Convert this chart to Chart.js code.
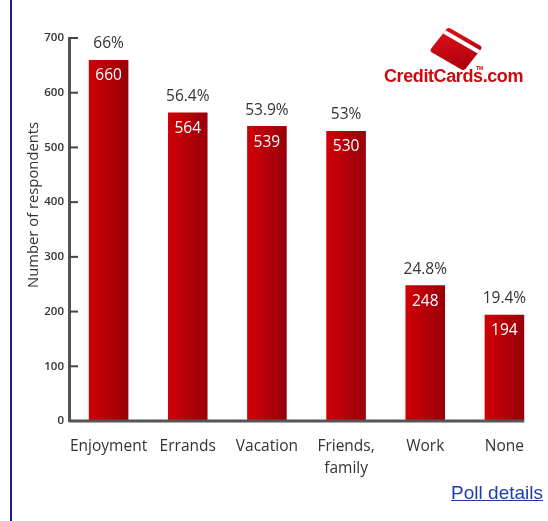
<!DOCTYPE html>
<html><head><meta charset="utf-8">
<script src="https://cdn.jsdelivr.net/npm/chart.js@4.4.1/dist/chart.umd.min.js"></script>
<style>
html,body{margin:0;padding:0;background:#fff;}
#wrap{position:relative;width:548px;height:521px;overflow:hidden;}
#c{position:absolute;left:0;top:0;}
#vline{position:absolute;left:10px;top:0;width:2px;height:521px;background:#1c1c8a;}
#poll{position:absolute;right:5px;top:482px;font-family:"Liberation Sans",Arial,sans-serif;font-size:19px;color:#1f3fa6;text-decoration:underline;}
#logo{position:absolute;left:384px;top:22px;width:150px;height:70px;}
#card{position:absolute;left:52px;top:12px;width:40px;height:30px;background:linear-gradient(135deg,#e0101a,#a8000a);border-radius:3px;transform:rotate(30deg) skewX(-8deg);}
#stripe{position:absolute;left:0;top:4px;width:100%;height:4px;background:#fff;}
#tm{position:absolute;left:92px;top:43px;font:bold 5px "Liberation Sans",Arial,sans-serif;color:#c00;}
#ltxt{position:absolute;left:0;top:44px;font:bold 18px "Liberation Sans",Arial,sans-serif;color:#cc0a10;letter-spacing:-0.4px;white-space:nowrap;}
</style></head>
<body><div id="wrap">
<canvas id="c" width="548" height="521"></canvas>
<div id="vline"></div>
<div id="logo"><div id="card"><div id="stripe"></div></div><div id="tm">TM</div><div id="ltxt">CreditCards.com</div></div>
<a id="poll" href="#">Poll details</a>
</div>
<script>
const categories = ['Enjoyment', 'Errands', 'Vacation', ['Friends,', 'family'], 'Work', 'None'];
const respondents = [660, 564, 539, 530, 248, 194];
const percentLabels = ['66%', '56.4%', '53.9%', '53%', '24.8%', '19.4%'];
const yTicks = [0, 100, 200, 300, 400, 500, 600, 700];
const yTitle = 'Number of respondents';

const FONT = '"Open Sans", "DejaVu Sans", sans-serif';

function barGradient(ctx) {
  const chart = ctx.chart;
  const xs = chart.scales.x;
  if (!chart.chartArea || !xs) return '#c00000';
  const cx = xs.getPixelForValue(ctx.dataIndex);
  const w = xs.width / categories.length * 0.5;
  const g = chart.ctx.createLinearGradient(cx - w / 2, 0, cx + w / 2, 0);
  g.addColorStop(0, '#d00008');
  g.addColorStop(1, '#980008');
  return g;
}

const decor = {
  id: 'decor',
  afterDatasetsDraw(chart) {
    const ctx = chart.ctx;
    const ys = chart.scales.y;
    const area = chart.chartArea;
    const meta = chart.getDatasetMeta(0);
    ctx.save();
    ctx.strokeStyle = '#444';
    ctx.lineWidth = 2;
    yTicks.forEach(v => {
      const y = ys.getPixelForValue(v);
      ctx.beginPath();
      ctx.moveTo(area.left, y);
      ctx.lineTo(area.left + 9, y);
      ctx.stroke();
    });
    const last = meta.data[meta.data.length - 1];
    const y0 = ys.getPixelForValue(0);
    ctx.lineWidth = 3;
    ctx.strokeStyle = '#555';
    ctx.beginPath();
    ctx.moveTo(area.left, y0);
    ctx.lineTo(last.x + last.width / 2, y0);
    ctx.stroke();
    ctx.textAlign = 'center';
    ctx.textBaseline = 'middle';
    ctx.font = '15.5px ' + FONT;
    meta.data.forEach((bar, i) => {
      ctx.fillStyle = '#333';
      ctx.fillText(percentLabels[i], bar.x, bar.y - 16);
      ctx.fillStyle = '#fff';
      ctx.fillText(String(respondents[i]), bar.x, bar.y + 16);
    });
    // y axis title
    ctx.translate(34, ys.getPixelForValue(395));
    ctx.rotate(-Math.PI / 2);
    ctx.fillStyle = '#333';
    ctx.font = '14.8px ' + FONT;
    ctx.fillText(yTitle, 0, 0);
    ctx.restore();
  }
};

new Chart(document.getElementById('c'), {
  type: 'bar',
  data: {
    labels: categories,
    datasets: [{
      data: respondents,
      backgroundColor: barGradient,
      borderWidth: 0,
      categoryPercentage: 1,
      barPercentage: 0.5
    }]
  },
  options: {
    responsive: false,
    animation: false,
    devicePixelRatio: 1,
    layout: { padding: { top: 38, right: 4, left: 0, bottom: 0 } },
    plugins: { legend: { display: false }, tooltip: { enabled: false } },
    scales: {
      x: {
        grid: { display: false, drawTicks: false },
        border: { display: false },
        ticks: { color: '#333', font: { family: FONT, size: 15.5, lineHeight: 1.4 }, padding: 15, maxRotation: 0, autoSkip: false },
        afterFit(s) { s.height = 100; }
      },
      y: {
        min: 0, max: 700,
        afterBuildTicks(s) { s.ticks = yTicks.map(v => ({ value: v })); },
        grid: { display: false, drawTicks: false },
        border: { display: true, color: '#555', width: 3 },
        ticks: { color: '#333', font: { family: FONT, size: 11.5, weight: '600' }, padding: 5 },
        title: { display: false },
        afterFit(s) { s.width = 69; }
      }
    }
  },
  plugins: [decor]
});
</script>
</body></html>
